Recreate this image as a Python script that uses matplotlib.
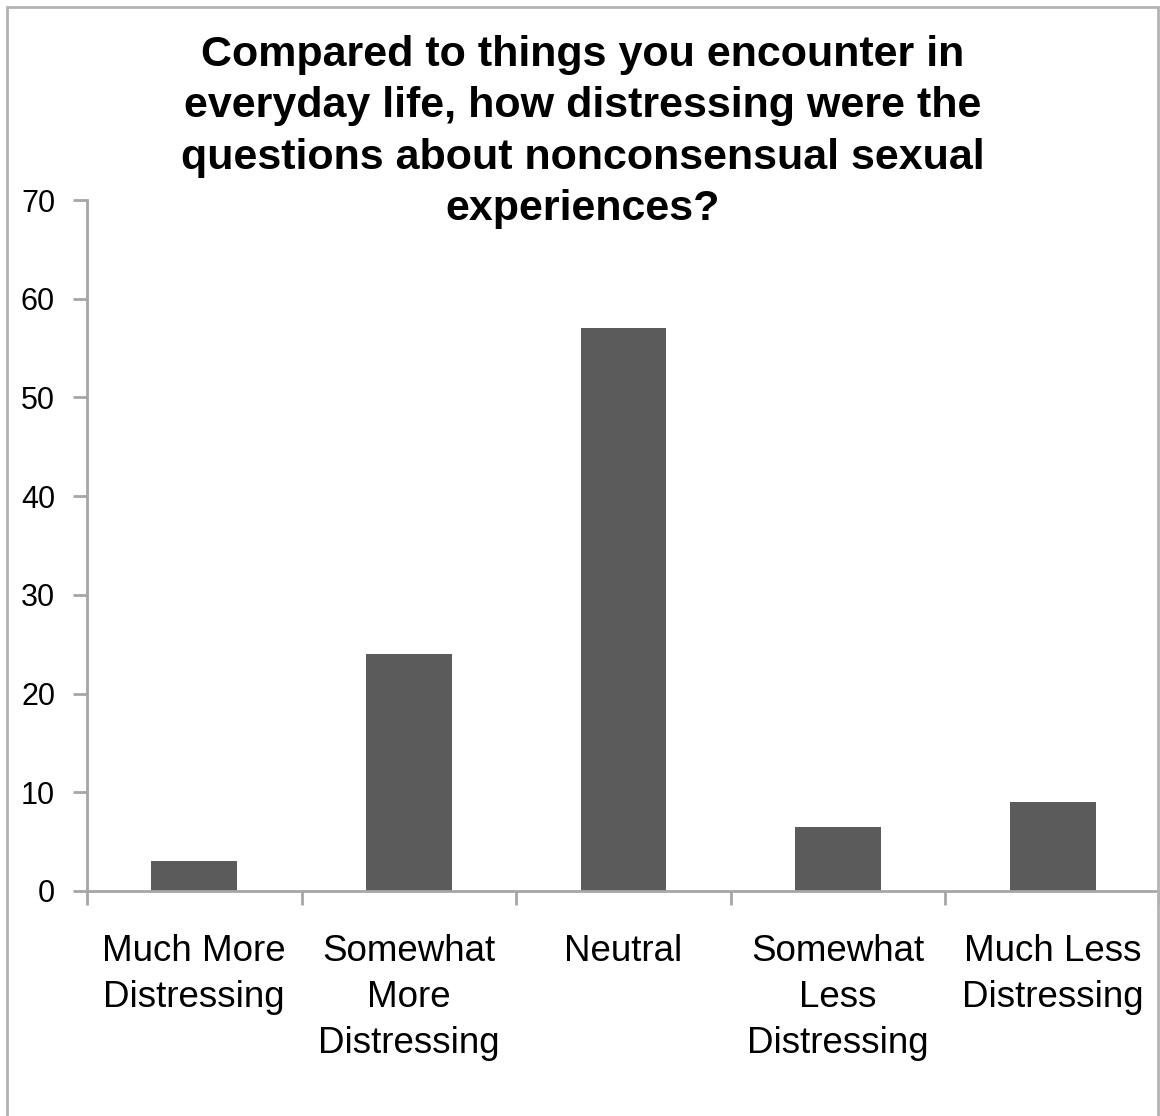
import matplotlib.pyplot as plt
from matplotlib.patches import Rectangle

# Survey responses
categories = ["Much More\nDistressing", "Somewhat\nMore\nDistressing", "Neutral",
              "Somewhat\nLess\nDistressing", "Much Less\nDistressing"]
counts = [3, 24, 57, 6.5, 9]
yticks = [0, 10, 20, 30, 40, 50, 60, 70]

title = ("Compared to things you encounter in\neveryday life, how distressing were the\n"
         "questions about nonconsensual sexual\nexperiences?")

plt.rcParams['font.family'] = ['Liberation Sans', 'DejaVu Sans']

fig = plt.figure(figsize=(11.6, 11.16), dpi=100)
ax = fig.add_axes([87/1160, 1 - 891/1116, 1 - 87/1160, 691/1116])

axis_gray = '#a6a6a6'
x = range(len(categories))
ax.bar(x, counts, width=0.4, color='#5b5b5b', zorder=2)

ax.set_xlim(-0.5, len(categories) - 0.5)
ax.set_ylim(0, 70)
ax.set_yticks(yticks)
ax.set_yticklabels([str(v) for v in yticks], fontsize=22)
ax.set_xticks([i - 0.5 for i in range(len(categories) + 1)])
ax.set_xticklabels([])
ax.set_xticks(list(x), minor=True)
ax.set_xticklabels(categories, minor=True, fontsize=26.5, linespacing=1.41)
ax.tick_params(axis='x', which='minor', length=0, pad=31)
ax.tick_params(axis='x', which='major', length=10, width=2, color=axis_gray)
ax.tick_params(axis='y', length=10, width=2, color=axis_gray, pad=13)

for side in ['top', 'right']:
    ax.spines[side].set_visible(False)
for side in ['left', 'bottom']:
    ax.spines[side].set_color(axis_gray)
    ax.spines[side].set_linewidth(2)

fig.text(583/1160, 1 - 132/1116, title, ha='center', va='center', fontsize=31,
         fontweight='bold', linespacing=1.36)

# gray frame around the chart area
fig.patches.append(Rectangle((7/1160, -0.01), 1151/1160, 1 - 7/1116 + 0.01,
                             transform=fig.transFigure, fill=False,
                             edgecolor='#b3b3b3', linewidth=2))

fig.savefig('out.png', dpi=100)
